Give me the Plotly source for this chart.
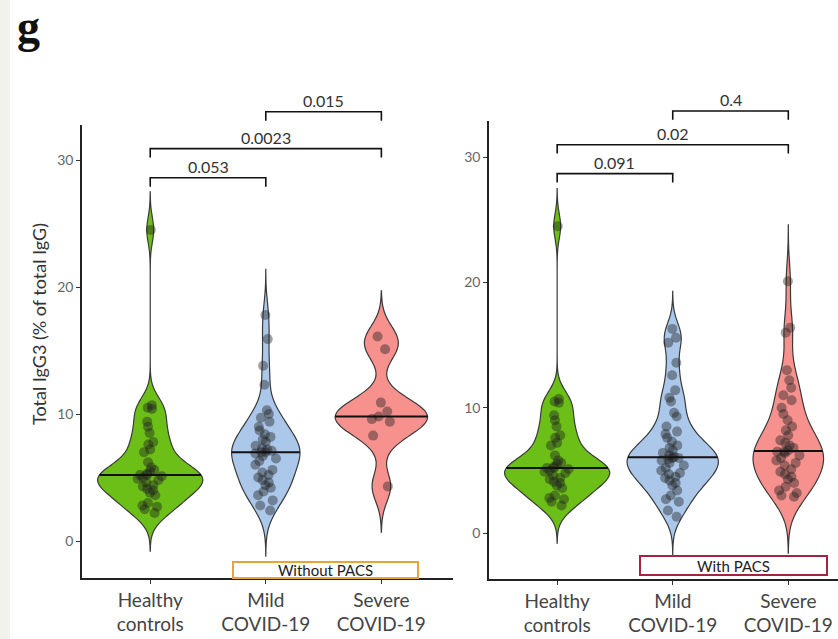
import numpy as np
import plotly.graph_objects as go

# ---------------------------------------------------------------
# Total IgG3 (% of total IgG) per participant
# ---------------------------------------------------------------
groups = ["Healthy<br>controls", "Mild<br>COVID-19", "Severe<br>COVID-19"]
y_ticks = [0, 10, 20, 30]

healthy_controls = [24.5, 10.7, 10.5, 10.4, 9.4, 9.0, 8.5, 7.8, 7.6, 7.2, 7.0,
                    6.2, 5.8, 5.6, 5.5, 5.3, 5.2, 5.2, 5.1, 5.0, 4.9, 4.8, 4.6,
                    4.4, 4.3, 4.1, 4.0, 3.8, 3.6, 3.0, 2.8, 2.7, 2.5, 2.2]

mild_without_pacs = [17.8, 15.9, 13.8, 12.3, 10.3, 10.0, 9.7, 9.4, 9.0, 8.7,
                     8.4, 8.2, 8.0, 7.8, 7.5, 7.3, 7.2, 7.1, 7.0, 7.0, 6.9,
                     6.7, 6.5, 6.3, 6.0, 5.6, 5.4, 5.2, 5.0, 4.8, 4.6, 4.4,
                     4.2, 3.9, 3.6, 3.2, 2.8, 2.4]

severe_without_pacs = [16.1, 15.1, 10.9, 10.2, 9.8, 9.6, 9.4, 8.3, 4.3]

mild_with_pacs = [16.3, 15.6, 15.2, 13.6, 12.6, 11.4, 10.8, 10.5, 9.6, 9.3,
                  8.5, 8.1, 7.9, 7.6, 7.3, 7.0, 6.8, 6.6, 6.4, 6.2, 6.1, 6.0,
                  6.0, 5.9, 5.8, 5.6, 5.4, 5.2, 5.0, 4.8, 4.7, 4.5, 4.4, 4.2,
                  4.0, 3.8, 3.4, 3.0, 2.7, 2.5, 1.8, 1.3]

severe_with_pacs = [20.1, 16.4, 16.0, 13.0, 12.2, 11.6, 11.0, 10.6, 10.0, 9.5,
                    9.0, 8.5, 8.2, 7.8, 7.4, 7.2, 7.0, 6.8, 6.6, 6.5, 6.5, 6.4,
                    6.2, 6.0, 5.8, 5.6, 5.4, 5.1, 4.9, 4.7, 4.5, 4.3, 4.0, 3.7,
                    3.4, 3.2, 3.0, 2.9]

# pairwise comparisons (group index pairs) and their p-values
comparisons = [(0, 1), (0, 2), (1, 2)]
p_without_pacs = ["0.053", "0.0023", "0.015"]
p_with_pacs = ["0.091", "0.02", "0.4"]

# ---------------------------------------------------------------
# styling / panel geometry
# ---------------------------------------------------------------
FILLS = ["#6cbf17", "#abc8eb", "#f6918e"]
OUTLINE = "#3a3a3a"
FONT = "Lato, 'Open Sans', sans-serif"

panels = [
    dict(tag="Without PACS", tag_color="#e8a33a",
         data=[healthy_controls, mild_without_pacs, severe_without_pacs],
         pvals=p_without_pacs, xa="x", ya="y",
         xdom=(0.0979, 0.5406), ydom=(0.0955, 0.8044),
         xr=(-0.59, 2.62), yr=(-2.91, 32.76),
         widths=[0.91, 0.59, 0.80], bw=[1.0, 1.2, 1.2],
         bracket_y=[28.6, 30.9, 33.8], tag_x=1.52, tag_y=-2.25,
         tag_w=183, tag_h=14),
    dict(tag="With PACS", tag_color="#a3243f",
         data=[healthy_controls, mild_with_pacs, severe_with_pacs],
         pvals=p_with_pacs, xa="x2", ya="y2",
         xdom=(0.5835, 1.0), ydom=(0.0939, 0.8106),
         xr=(-0.59, 2.43), yr=(-3.67, 32.9),
         widths=[0.91, 0.79, 0.61], bw=[1.0, 1.0, 1.5],
         bracket_y=[28.7, 31.0, 33.7], tag_x=1.53, tag_y=-2.6,
         tag_w=185, tag_h=17),
]


def to_paper(p, x, y):
    """Convert data coordinates of a panel into paper coordinates."""
    px = p["xdom"][0] + (x - p["xr"][0]) / (p["xr"][1] - p["xr"][0]) * (p["xdom"][1] - p["xdom"][0])
    py = p["ydom"][0] + (y - p["yr"][0]) / (p["yr"][1] - p["yr"][0]) * (p["ydom"][1] - p["ydom"][0])
    return px, py


def kde(vals, bw, pts):
    vals = np.asarray(vals, float)
    return np.exp(-0.5 * ((pts[:, None] - vals[None, :]) / bw) ** 2).sum(axis=1)


fig = go.Figure()
shapes = []
annotations = []

for p in panels:
    for i, vals in enumerate(p["data"]):
        vals = np.asarray(vals, float)
        bw = p["bw"][i]
        w = p["widths"][i]
        lo, hi = vals.min() - 3 * bw, vals.max() + 3 * bw

        # violin body
        fig.add_trace(go.Violin(
            x0=i, y=vals, xaxis=p["xa"], yaxis=p["ya"],
            points=False, width=w, scalemode="width", bandwidth=bw,
            spanmode="manual", span=[lo, hi],
            fillcolor=FILLS[i], line=dict(color=OUTLINE, width=1.2),
            box_visible=False, meanline_visible=False, hoverinfo="skip",
        ))

        # median line spanning the violin at that height
        med = float(np.median(vals))
        grid = np.linspace(lo, hi, 2000)
        dens = kde(vals, bw, grid)
        hw = kde(vals, bw, np.array([med]))[0] / dens.max() * w / 2
        fig.add_trace(go.Scatter(
            x=[i - hw, i + hw], y=[med, med], xaxis=p["xa"], yaxis=p["ya"],
            mode="lines", line=dict(color="#111111", width=2),
            hoverinfo="skip",
        ))

        # individual participants, jittered
        fig.add_trace(go.Violin(
            x0=i, y=vals, xaxis=p["xa"], yaxis=p["ya"],
            points="all", pointpos=0, jitter=0.7, width=0.32,
            scalemode="width", spanmode="hard",
            fillcolor="rgba(0,0,0,0)", line=dict(color="rgba(0,0,0,0)", width=0),
            marker=dict(size=10, color="rgba(30,30,30,0.42)", line=dict(width=0)),
            box_visible=False, meanline_visible=False, hoverinfo="y",
        ))

    # significance brackets
    for (a, b), pv, h in zip(comparisons, p["pvals"], p["bracket_y"]):
        xa_, yh = to_paper(p, a, h)
        xb_, _ = to_paper(p, b, h)
        _, yl = to_paper(p, a, h - 0.7)
        shapes.append(dict(
            type="path", xref="paper", yref="paper",
            path=f"M {xa_},{yl} L {xa_},{yh} L {xb_},{yh} L {xb_},{yl}",
            line=dict(color="#111111", width=1.6),
        ))
        xm, _ = to_paper(p, (a + b) / 2, h)
        annotations.append(dict(
            x=xm, y=yh, xref="paper", yref="paper", text=pv, showarrow=False,
            xanchor="center", yanchor="bottom", yshift=0,
            font=dict(family=FONT, size=16, color="#333333"),
        ))

    # cohort tag
    tx, ty = to_paper(p, p["tag_x"], p["tag_y"])
    annotations.append(dict(
        x=tx, y=ty, xref="paper", yref="paper", text=p["tag"], showarrow=False,
        xanchor="center", yanchor="middle", width=p["tag_w"], height=p["tag_h"],
        bgcolor="white", bordercolor=p["tag_color"], borderwidth=2, borderpad=0,
        font=dict(family=FONT, size=15, color="#222222"),
    ))

# panel letter and y-axis title
annotations.append(dict(
    x=16 / 838, y=1, xref="paper", yref="paper", text="<b>g</b>",
    showarrow=False, xanchor="left", yanchor="top", borderpad=0,
    font=dict(family="Liberation Serif", size=46, color="#111111"),
))
annotations.append(dict(
    x=39 / 838, y=0.493, xref="paper", yref="paper",
    text="Total IgG3 (% of total IgG)", textangle=-90, showarrow=False,
    xanchor="center", yanchor="middle",
    font=dict(family=FONT, size=18, color="#333333"),
))

# light strip along the left edge
shapes.append(dict(type="rect", xref="paper", yref="paper", x0=0, x1=10 / 838,
                   y0=0, y1=1, fillcolor="#f2f1ec", line=dict(width=0), layer="below"))

axis_common = dict(showgrid=False, zeroline=False, showline=True,
                   linecolor="#222222", linewidth=1.5, ticks="outside",
                   ticklen=4, tickcolor="#333333", fixedrange=True,
                   automargin=False)

layout = dict(
    width=838, height=639, margin=dict(l=0, r=0, t=0, b=0, autoexpand=False),
    paper_bgcolor="white", plot_bgcolor="white", showlegend=False,
    violinmode="overlay", violingap=0, violingroupgap=0,
    font=dict(family=FONT, color="#333333"),
    shapes=shapes, annotations=annotations,
)
for p in panels:
    xk = "xaxis" + p["xa"][1:]
    yk = "yaxis" + p["ya"][1:]
    layout[xk] = dict(axis_common, domain=list(p["xdom"]), range=list(p["xr"]),
                      tickvals=[0, 1, 2], ticktext=groups, anchor=p["ya"],
                      ticklabelstandoff=0,
                      tickfont=dict(family=FONT, size=19, color="#444444"))
    layout[yk] = dict(axis_common, domain=list(p["ydom"]), range=list(p["yr"]),
                      tickvals=y_ticks, anchor=p["xa"],
                      tickfont=dict(family=FONT, size=14, color="#666666"))

fig.update_layout(**layout)
fig.write_html("out.html")
